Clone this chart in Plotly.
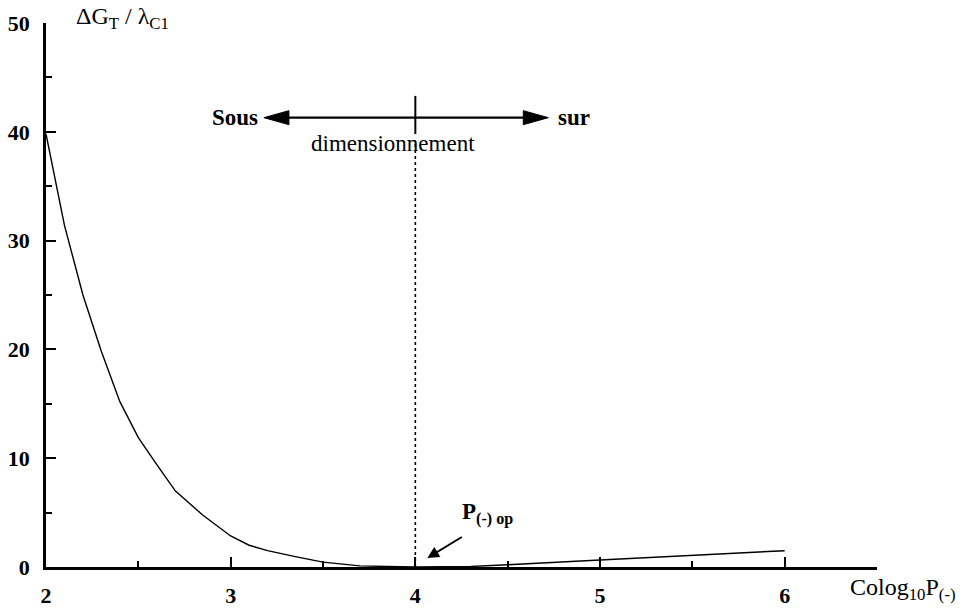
import plotly.graph_objects as go

# Colog10 P(-) values and the normalised cost increase along the curve
colog_p = [2.0, 2.1, 2.2, 2.3, 2.4, 2.5, 2.6, 2.7, 2.85, 3.0, 3.1, 3.2, 3.35, 3.5,
           3.7, 3.9, 4.0, 4.3, 4.5, 5.0, 5.5, 6.0]
delta_g = [39.8, 31.4, 25.0, 19.8, 15.2, 11.9, 9.4, 7.0, 4.75, 2.85, 2.0, 1.5, 0.95, 0.45,
           0.1, 0.0, 0.0, 0.05, 0.2, 0.65, 1.1, 1.5]

x_ticks = [2, 3, 4, 5, 6]
y_ticks = [0, 10, 20, 30, 40, 50]

p_opt = 4.0            # optimum Colog10 P(-)
arrow_y = 41.3         # height of the "Sous / sur" double arrow
arrow_left = 3.18
arrow_right = 4.72

FONT = "Liberation Serif"
INK = "black"

fig = go.Figure()
fig.add_trace(go.Scatter(x=colog_p, y=delta_g, mode="lines",
                         line=dict(color=INK, width=1.4), showlegend=False,
                         hoverinfo="skip"))

shapes = [
    # dotted optimum line
    dict(type="line", xref="x", yref="y", x0=p_opt, x1=p_opt, y0=0, y1=39.2,
         line=dict(color=INK, width=1.6, dash="dot")),
    # solid cross mark on the double arrow
    dict(type="line", xref="x", yref="y", x0=p_opt, x1=p_opt, y0=39.8, y1=43.3,
         line=dict(color=INK, width=2)),
    # double arrow shaft
    dict(type="line", xref="x", yref="y", x0=arrow_left + 0.08, x1=arrow_right - 0.08,
         y0=arrow_y, y1=arrow_y, line=dict(color=INK, width=2.2)),
    # arrow heads
    dict(type="path", xref="x", yref="y", xsizemode="pixel", ysizemode="pixel",
         xanchor=arrow_left, yanchor=arrow_y, path="M0,0 L25,7 L25,-7 Z",
         fillcolor=INK, line=dict(color=INK, width=1)),
    dict(type="path", xref="x", yref="y", xsizemode="pixel", ysizemode="pixel",
         xanchor=arrow_right, yanchor=arrow_y, path="M0,0 L-25,7 L-25,-7 Z",
         fillcolor=INK, line=dict(color=INK, width=1)),
]

TXT = dict(family=FONT, size=23, color=INK, weight="bold")
TITLE = dict(family=FONT, size=24, color=INK)

annotations = [
    dict(x=arrow_left - 0.02, y=arrow_y, xref="x", yref="y", text="Sous",
         showarrow=False, xanchor="right", yanchor="middle", font=TXT),
    dict(x=arrow_right + 0.04, y=arrow_y, xref="x", yref="y", text="sur",
         showarrow=False, xanchor="left", yanchor="middle", font=TXT),
    dict(x=3.88, y=38.9, xref="x", yref="y", text="dimensionnement",
         showarrow=False, xanchor="center", yanchor="middle",
         font=dict(family=FONT, size=23, color=INK)),
    # optimum pointer
    dict(x=4.065, y=0.83, xref="x", yref="y", ax=4.26, ay=2.84, axref="x", ayref="y",
         text="", showarrow=True, arrowhead=2, arrowsize=1.3, arrowwidth=1.8,
         arrowcolor=INK),
    dict(x=4.24, y=4.9, xref="x", yref="y", text="P<sub>(-) op</sub>",
         showarrow=False, xanchor="left", yanchor="middle", font=TXT),
    # axis titles, placed just outside the plotting area
    dict(x=(74 - 46) / 831, y=(567 - 18) / 544, xref="paper", yref="paper",
         text="ΔG<sub>T</sub> / λ<sub>C1</sub>",
         showarrow=False, xanchor="left", yanchor="middle", font=TITLE),
    dict(x=(848 - 46) / 831, y=(567 - 589) / 544, xref="paper", yref="paper",
         text="Colog<sub>10</sub>P<sub>(-)</sub>",
         showarrow=False, xanchor="left", yanchor="middle", font=TITLE),
]

axis_common = dict(showline=True, linecolor=INK, linewidth=2.5, showgrid=False,
                   zeroline=False, ticks="inside", ticklen=10, tickwidth=2,
                   tickcolor=INK, automargin=False,
                   tickfont=dict(family=FONT, size=22, color=INK, weight="bold"))

fig.update_layout(
    width=976, height=608,
    margin=dict(l=46, r=99, t=23, b=41),
    paper_bgcolor="white", plot_bgcolor="white",
    xaxis=dict(range=[2, 6.5], tickvals=x_ticks, ticktext=[str(v) for v in x_ticks],
               ticklabelstandoff=7,
               minor=dict(dtick=0.5, tick0=2, ticks="inside", ticklen=6, tickwidth=2,
                          tickcolor=INK),
               **axis_common),
    yaxis=dict(range=[0, 50], tickvals=y_ticks, ticktext=[str(v) for v in y_ticks],
               ticklabelstandoff=9,
               minor=dict(dtick=5, tick0=0, ticks="inside", ticklen=6, tickwidth=2,
                          tickcolor=INK),
               **axis_common),
    shapes=shapes,
    annotations=annotations,
    showlegend=False,
)

fig.write_html("out.html")
